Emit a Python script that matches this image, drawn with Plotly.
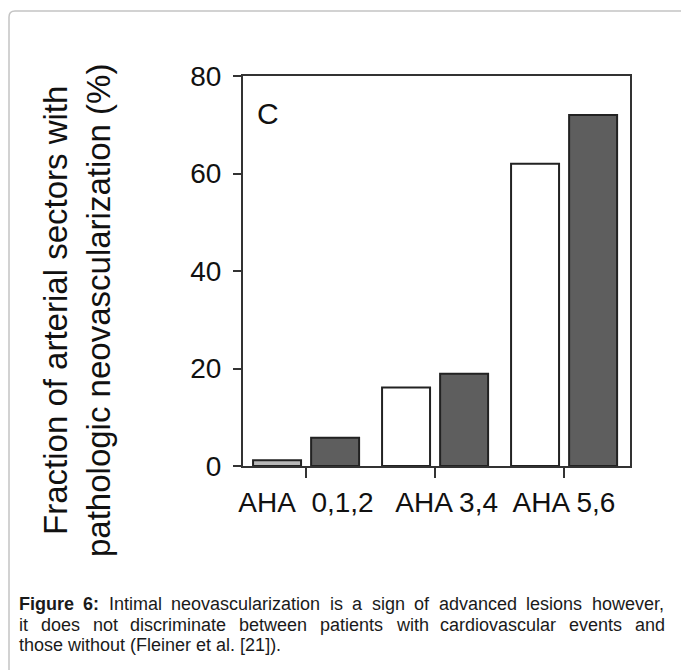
import plotly.graph_objects as go

# ---- data ----
categories = ["AHA 0,1,2", "AHA 3,4", "AHA 5,6"]
tick_labels = ["AHA\u00a0 0,1,2", "\u00a0\u00a0\u00a0AHA 3,4", "AHA 5,6"]
white_values = [1.2, 16.1, 62.0]
dark_values = [5.8, 18.9, 72.0]
y_ticks = [0, 20, 40, 60, 80]

W, H = 681, 670
L, R, T, B = 243, 630, 76, 466  # plot area in pixels


def px(x):
    return (x - L) / (R - L)


def py(y):
    return (B - y) / (B - T)


fig = go.Figure()
fig.add_trace(go.Bar(
    x=categories, y=white_values, width=0.372, offset=-0.41,
    marker=dict(color=["#b8b8b8", "white", "white"],
                line=dict(color="#222222", width=2)),
    showlegend=False,
))
fig.add_trace(go.Bar(
    x=categories, y=dark_values, width=0.372, offset=0.04,
    marker=dict(color="#5e5e5e", line=dict(color="#222222", width=2)),
    showlegend=False,
))

axis_font = dict(family="Liberation Sans, Arial, sans-serif", size=28, color="#111111")

fig.update_xaxes(
    range=[-0.488, 2.512], tickmode="array", tickvals=categories, ticktext=tick_labels,
    tickangle=0,
    showline=True, linecolor="#333333", linewidth=2, mirror=True,
    ticks="outside", ticklen=10, tickwidth=2, tickcolor="#333333",
    showgrid=False, zeroline=False, tickfont=axis_font,
)
fig.update_yaxes(
    range=[0, 80], tickvals=y_ticks,
    showline=True, linecolor="#333333", linewidth=2, mirror=True,
    ticks="outside", ticklen=8, tickwidth=2, tickcolor="#333333",
    ticklabelstandoff=6,
    showgrid=False, zeroline=False, tickfont=axis_font,
)

annotations = []
# panel letter
annotations.append(dict(
    x=px(255), y=py(113), xref="paper", yref="paper", text="C", showarrow=False,
    xanchor="left", yanchor="middle",
    font=dict(family="Liberation Sans, Arial, sans-serif", size=30, color="#111111"),
))
# y title
annotations.append(dict(
    x=px(77), y=py(311), xref="paper", yref="paper",
    text="Fraction of arterial sectors with<br>pathologic neovascularization (%)",
    showarrow=False, textangle=-90, xanchor="center", yanchor="middle",
    font=dict(family="Liberation Sans, Arial, sans-serif", size=33, color="#111111"),
))

# caption (justified lines 1-2 via Arial/Liberation metrics)
REG = {" ": 278, "a": 556, "b": 556, "c": 500, "d": 556, "e": 556, "f": 278, "g": 556,
       "h": 556, "i": 222, "j": 222, "k": 500, "l": 222, "m": 833, "n": 556, "o": 556,
       "p": 556, "q": 556, "r": 333, "s": 500, "t": 278, "u": 556, "v": 500, "w": 722,
       "x": 500, "y": 500, "z": 500, ",": 278, ".": 278, ":": 278, "F": 611, "I": 278,
       "(": 333, ")": 333, "[": 278, "]": 278}
BOLD = {"F": 611, "i": 278, "g": 611, "u": 611, "r": 389, "e": 556, " ": 278, "6": 556, ":": 333}
CAP_SIZE = 18


def word_width(w, bold=False):
    table = BOLD if bold else REG
    return sum(table.get(ch, 556) for ch in w) * CAP_SIZE / 1000.0


cap_font = dict(family="Liberation Sans, Arial, sans-serif", size=CAP_SIZE, color="#1a1a1a")
cap_left, cap_right = 18, 664
caption_line1 = [("Figure", True), ("6:", True), ("Intimal", False), ("neovascularization", False),
                 ("is", False), ("a", False), ("sign", False), ("of", False), ("advanced", False),
                 ("lesions", False), ("however,", False)]
caption_line2 = "it does not discriminate between patients with cardiovascular events and".split()
caption_line3 = "those without (Fleiner et al. [21])."
line_y = [604, 624.5, 645]


def justify(words, ypix):
    widths = [word_width(w, b) for w, b in words]
    gap = (cap_right - cap_left - sum(widths)) / (len(words) - 1)
    x = cap_left
    for (w, b), wd in zip(words, widths):
        annotations.append(dict(
            x=px(x), y=py(ypix), xref="paper", yref="paper",
            text=f"<b>{w}</b>" if b else w, showarrow=False,
            xanchor="left", yanchor="middle", font=cap_font, borderpad=0,
        ))
        x += wd + gap


justify(caption_line1, line_y[0])
justify([(w, False) for w in caption_line2], line_y[1])
annotations.append(dict(
    x=px(cap_left), y=py(line_y[2]), xref="paper", yref="paper", text=caption_line3,
    showarrow=False, xanchor="left", yanchor="middle", font=cap_font, borderpad=0,
))

shapes = [dict(
    type="path", xref="paper", yref="paper",
    path=(f"M {px(9)} {py(700)} L {px(9)} {py(17)} "
          f"Q {px(9)} {py(11)} {px(15)} {py(11)} L {px(700)} {py(11)}"),
    line=dict(color="#c4c4c4", width=1.5),
)]

fig.update_layout(
    width=W, height=H, margin=dict(l=L, r=W - R, t=T, b=H - B, pad=0),
    paper_bgcolor="white", plot_bgcolor="white",
    barmode="overlay", annotations=annotations, shapes=shapes,
    font=dict(family="Liberation Sans, Arial, sans-serif"),
)

fig.write_html("out.html")
